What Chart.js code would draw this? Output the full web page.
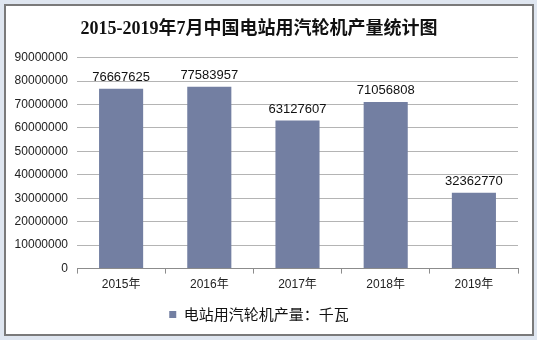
<!DOCTYPE html>
<html>
<head>
<meta charset="utf-8">
<script src="https://cdn.jsdelivr.net/npm/chart.js@4/dist/chart.umd.min.js"></script>
<style>
  html, body { margin: 0; padding: 0; background: #fff; }
  .wrap { position: relative; width: 537px; height: 340px; background: #dfe6f0; }
  .frame { position: absolute; left: 4px; top: 4px; width: 526px; height: 328px; border: 2px solid #7a7a7a; background: #fff; }
  canvas { position: absolute; left: 0; top: 0; }
</style>
</head>
<body>
<div class="wrap">
  <div class="frame"></div>
  <canvas id="chart" width="537" height="340"></canvas>
</div>
<script>
// 年份和产量（千瓦）
const years = ['2015年', '2016年', '2017年', '2018年', '2019年'];
const output = [76667625, 77583957, 63127607, 71056808, 32362770];
const seriesName = '电站用汽轮机产量：千瓦';
const chartTitle = '2015-2019年7月中国电站用汽轮机产量统计图';

const barColor = '#737fa2';
const numFont = '"Liberation Sans", Arial, sans-serif';
const cjkFont = '"Liberation Sans", "Noto Sans CJK SC", sans-serif';

// подписи значений над столбцами
const valueLabels = {
    id: 'valueLabels',
    afterDatasetsDraw(chart) {
        const ctx = chart.ctx;
        const meta = chart.getDatasetMeta(0);
        ctx.save();
        ctx.font = '13px ' + numFont;
        ctx.fillStyle = '#111';
        ctx.textAlign = 'center';
        ctx.textBaseline = 'bottom';
        meta.data.forEach((bar, i) => {
            ctx.fillText(String(output[i]), bar.x, bar.y - 5);
        });
        ctx.restore();
    }
};

new Chart(document.getElementById('chart'), {
    type: 'bar',
    data: {
        labels: years,
        datasets: [{
            label: seriesName,
            data: output,
            backgroundColor: barColor,
            categoryPercentage: 1,
            barPercentage: 0.5
        }]
    },
    options: {
        responsive: false,
        animation: false,
        layout: { padding: { left: 0, right: 19, top: 0, bottom: 8 } },
        scales: {
            x: {
                afterFit(scale) { scale.height += 5; },
                grid: {
                    drawOnChartArea: false,
                    drawTicks: true,
                    tickLength: 5,
                    color: '#8c8c8c'
                },
                border: { color: '#8c8c8c', width: 1 },
                ticks: {
                    color: '#222',
                    font: { size: 12, family: cjkFont },
                    padding: 4
                }
            },
            y: {
                min: 0,
                max: 90000000,
                afterFit(scale) { scale.width = 77; },
                grid: { color: '#b4b4b4', drawTicks: false },
                border: { display: false },
                ticks: {
                    stepSize: 10000000,
                    color: '#222',
                    padding: 9,
                    font: { size: 12, family: numFont },
                    callback: v => String(v)
                }
            }
        },
        plugins: {
            title: {
                display: true,
                text: chartTitle,
                color: '#111',
                font: { size: 18, weight: 'bold', family: '"Liberation Serif", "Noto Sans CJK SC", serif' },
                padding: { top: 19, bottom: 17 }
            },
            legend: {
                position: 'bottom',
                labels: {
                    boxWidth: 7,
                    boxHeight: 7,
                    color: '#111',
                    font: { size: 15, family: '"Noto Sans CJK SC", sans-serif' },
                    padding: 6
                }
            },
            tooltip: { enabled: false }
        }
    },
    plugins: [valueLabels]
});
</script>
</body>
</html>
